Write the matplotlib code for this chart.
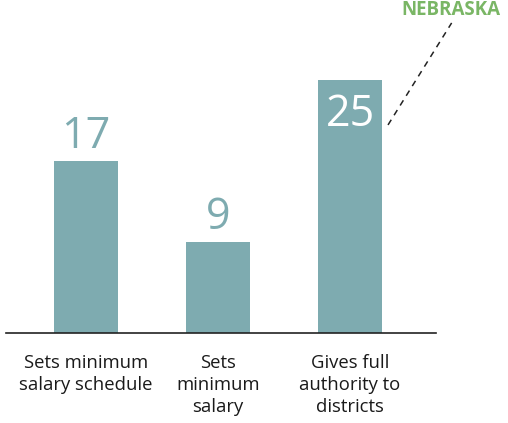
import matplotlib.pyplot as plt

categories = ["Sets minimum\nsalary schedule", "Sets\nminimum\nsalary", "Gives full\nauthority to\ndistricts"]
values = [17, 9, 25]
callout = "NEBRASKA"

bar_color = "#7eabb0"
green = "#7ab665"

plt.rcParams['font.family'] = ['Open Sans', 'DejaVu Sans']

W, H = 508, 423
fig = plt.figure(figsize=(W / 100, H / 100), dpi=100)
ax = fig.add_axes([6 / W, (H - 333) / H, 430 / W, 333 / H])

x = list(range(len(values)))
ax.bar(x, values, width=0.485, color=bar_color, zorder=2)
ax.set_xlim(-80 / 132, 350 / 132)
ax.set_ylim(0, 333 / 10.1)

for spine in ["top", "right", "left"]:
    ax.spines[spine].set_visible(False)
ax.spines["bottom"].set_color("#222222")
ax.spines["bottom"].set_linewidth(1.2)
ax.set_yticks([])
ax.set_xticks(x)
ax.set_xticklabels(categories, fontsize=13.3, linespacing=1.28, color="#1a1a1a")
ax.tick_params(axis="x", length=0, pad=15)

for xi, v in zip(x, values):
    if v == max(values):
        ax.text(xi, v - 1.2, str(v), ha="center", va="top", fontsize=31,
                color="white")
    else:
        ax.text(xi, v + 0.25, str(v), ha="center", va="bottom", fontsize=31,
                color=bar_color)

# dashed leader from the tallest bar to the state label
top = x[values.index(max(values))]
ax.plot([top + 0.288, top + 0.77], [20.6, 30.7], ls=(0, (4, 3.5)), color="#222222",
        lw=1.1, clip_on=False)
ax.text(top + 0.765, 32.0, callout, ha="center", va="center", fontsize=13.5,
        fontweight="bold", color=green, clip_on=False)

fig.savefig("out.png", dpi=100)
